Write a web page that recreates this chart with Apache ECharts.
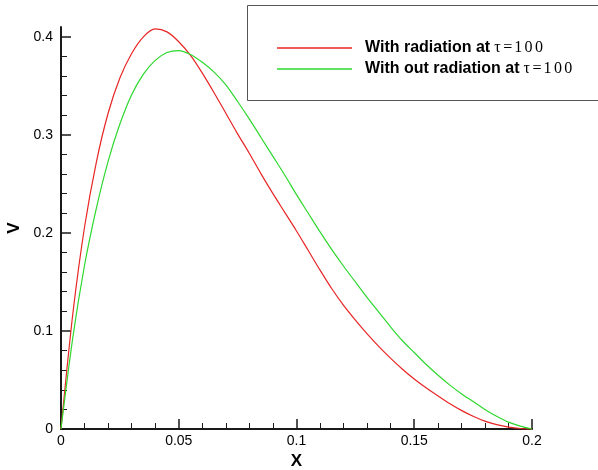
<!DOCTYPE html>
<html>
<head>
<meta charset="utf-8">
<script src="https://cdn.jsdelivr.net/npm/echarts@6/dist/echarts.min.js"></script>
<style>html,body{margin:0;padding:0;background:#fff;}#c{width:598px;height:470px;}</style>
</head>
<body>
<div id="c"></div>
<script>
var xValues = [0, 0.005, 0.01, 0.015, 0.02, 0.025, 0.03, 0.035, 0.04, 0.045, 0.05, 0.055, 0.06, 0.065, 0.07, 0.075, 0.08, 0.085, 0.09, 0.095, 0.1, 0.105, 0.11, 0.115, 0.12, 0.125, 0.13, 0.135, 0.14, 0.145, 0.15, 0.155, 0.16, 0.165, 0.17, 0.175, 0.18, 0.185, 0.19, 0.195, 0.2];
var withRadiation = [0, 0.117, 0.206, 0.272, 0.322, 0.358, 0.383, 0.400, 0.408, 0.405, 0.395, 0.381, 0.363, 0.343, 0.322, 0.301, 0.281, 0.260, 0.240, 0.221, 0.202, 0.182, 0.162, 0.143, 0.126, 0.111, 0.097, 0.084, 0.072, 0.061, 0.051, 0.042, 0.034, 0.026, 0.019, 0.013, 0.008, 0.0045, 0.002, 0.0005, 0];
var withoutRadiation = [0, 0.093, 0.167, 0.225, 0.273, 0.311, 0.341, 0.362, 0.376, 0.384, 0.386, 0.382, 0.374, 0.364, 0.351, 0.334, 0.316, 0.297, 0.278, 0.259, 0.239, 0.220, 0.201, 0.183, 0.166, 0.150, 0.134, 0.119, 0.104, 0.090, 0.078, 0.066, 0.055, 0.045, 0.036, 0.028, 0.020, 0.013, 0.007, 0.003, 0];
var xTicks = [0, 0.05, 0.1, 0.15, 0.2];
var yTicks = [0, 0.1, 0.2, 0.3, 0.4];
var yMinorTicks = [0.02, 0.04, 0.06, 0.08, 0.12, 0.14, 0.16, 0.18, 0.22, 0.24, 0.26, 0.28, 0.32, 0.34, 0.36, 0.38];
var seriesNames = ['With radiation at', 'With out radiation at'];
var tauChars = ['τ', '=', '1', '0', '0'];

function pairs(xs, ys) { return xs.map(function (x, i) { return [x, ys[i]]; }); }

var chart = echarts.init(document.getElementById('c'), null, {renderer: 'canvas'});
var axisColor = '#1a1a1a';
var fontFam = '"Liberation Sans", Arial, sans-serif';
var serifFam = '"Liberation Serif", "DejaVu Serif", serif';
chart.setOption({
  animation: false,
  backgroundColor: '#fff',
  grid: {left: 61, right: 66, top: 27, bottom: 41, containLabel: false, outerBoundsMode: 'none'},
  xAxis: {
    type: 'value', min: 0, max: 0.2, interval: 0.05,
    name: 'X', nameLocation: 'middle', nameGap: 20,
    nameTextStyle: {fontFamily: fontFam, fontWeight: 'bold', fontSize: 17, color: '#000'},
    axisLine: {show: true, lineStyle: {color: axisColor, width: 2}},
    axisTick: {show: true, inside: true, length: 10, lineStyle: {color: axisColor, width: 1.5}, customValues: xTicks},
    minorTick: {show: true, splitNumber: 5, length: 6, lineStyle: {color: axisColor, width: 1}},
    axisLabel: {show: true, margin: 5, fontFamily: fontFam, fontSize: 14, color: '#000', customValues: xTicks},
    splitLine: {show: false}, minorSplitLine: {show: false}
  },
  yAxis: [{
    type: 'value', min: 0, max: 0.41,
    name: 'V', nameLocation: 'middle', nameGap: 37, nameRotate: 90,
    nameTextStyle: {fontFamily: fontFam, fontWeight: 'bold', fontSize: 17, color: '#000'},
    axisLine: {show: true, lineStyle: {color: axisColor, width: 2}},
    axisTick: {show: true, inside: true, length: 10, lineStyle: {color: axisColor, width: 1.5}, customValues: yTicks},
    axisLabel: {show: true, margin: 8, fontFamily: fontFam, fontSize: 14, color: '#000', customValues: yTicks},
    splitLine: {show: false}
  }, {
    type: 'value', min: 0, max: 0.41, position: 'left', offset: 0,
    axisLine: {show: false},
    axisTick: {show: true, inside: true, length: 6, lineStyle: {color: axisColor, width: 1}, customValues: yMinorTicks},
    axisLabel: {show: false},
    splitLine: {show: false}
  }],
  legend: {
    orient: 'vertical', left: 272, top: 35, itemWidth: 75, itemHeight: 1.5, itemGap: 5,
    icon: 'rect', selectedMode: false,
    data: seriesNames,
    formatter: function (n) {
      return '{a|' + n + '}{s| }' + tauChars.map(function (c) { return '{c|' + c + '}'; }).join('');
    },
    textStyle: {
      color: '#000', padding: [0, 0, 0, 8],
      rich: {
        a: {fontFamily: fontFam, fontWeight: 'bold', fontSize: 16, color: '#000', lineHeight: 14},
        s: {fontFamily: fontFam, fontSize: 16, lineHeight: 14, width: 2},
        c: {fontFamily: serifFam, fontSize: 16, color: '#000', lineHeight: 14, width: 10.4, align: 'center'}
      }
    }
  },
  graphic: [{
    type: 'rect', z: -1, silent: true,
    shape: {x: 247.5, y: 5.5, width: 400, height: 95},
    style: {fill: 'none', stroke: '#555', lineWidth: 1}
  }],
  series: [{
    name: seriesNames[0], type: 'line', data: pairs(xValues, withRadiation),
    showSymbol: false, symbol: 'none', smooth: 0.3, clip: false,
    lineStyle: {color: '#e82525', width: 1.2}, itemStyle: {color: '#e82525'}
  }, {
    name: seriesNames[1], type: 'line', data: pairs(xValues, withoutRadiation),
    showSymbol: false, symbol: 'none', smooth: 0.3, clip: false,
    lineStyle: {color: '#2ed82e', width: 1.2}, itemStyle: {color: '#2ed82e'}
  }]
});
</script>
</body>
</html>
